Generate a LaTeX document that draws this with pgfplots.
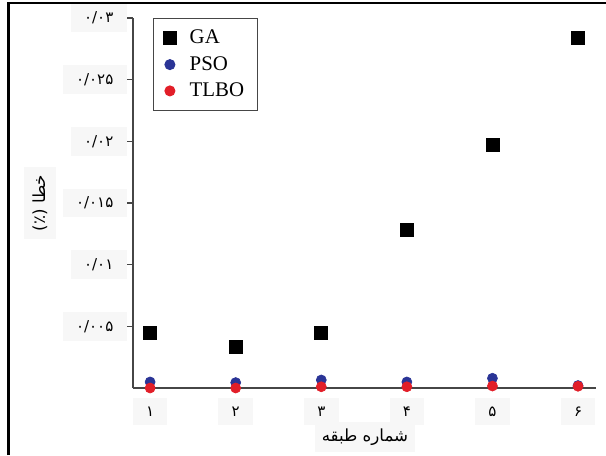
\documentclass[border=0pt]{standalone}
\usepackage{pgfplots}
\pgfplotsset{compat=1.18}
\usepackage{fontspec}
\setmainfont{Liberation Serif}
\newfontfamily\arabicfont[Script=Arabic]{DejaVu Sans}
\TeXXeTstate=1
\definecolor{psoblue}{RGB}{42,52,150}
\definecolor{tlbored}{RGB}{226,30,40}
\definecolor{axgray}{RGB}{70,70,70}
\begin{document}
\begin{tikzpicture}
\useasboundingbox (0pt,0pt) rectangle (363.6pt,273pt);
\draw[line width=1.3pt] (5.1pt,0pt) -- (5.1pt,271.2pt) -- (363.6pt,271.2pt);
\begin{axis}[
  at={(79.8pt,40.2pt)}, anchor=south west,
  scale only axis, width=277.8pt, height=222pt,
  xmin=0.8, xmax=6.21, ymin=0, ymax=0.03,
  clip=false,
  axis lines=left,
  axis line style={-, draw=axgray, line width=0.8pt},
  xtick={1,2,3,4,5,6},
  xticklabels={۱,۲,۳,۴,۵,۶},
  ytick={0.005,0.01,0.015,0.02,0.025,0.03},
  yticklabels={۰/۰۰۵,۰/۰۱,۰/۰۱۵,۰/۰۲,۰/۰۲۵,۰/۰۳},
  scaled y ticks=false,
  tick align=outside,
  major tick length=3.6pt,
  x tick style={draw=none},
  y tick style={draw=axgray, line width=0.8pt},
  ticklabel style={font=\arabicfont\small, fill=black!3, inner xsep=8pt, inner ysep=5pt},
  xticklabel style={anchor=center, yshift=-10.5pt},
  xlabel={\arabicfont\beginR شماره طبقه\endR},
  xlabel style={at={(axis description cs:0.501,0)}, anchor=center, yshift=-29.4pt, fill=black!3, inner sep=4pt},
  ylabel={\arabicfont\beginR خطا (٪)\endR},
  ylabel style={at={(axis description cs:-0.2009,0.5)}, anchor=center, fill=black!3, inner sep=5pt},
  legend style={at={(0.043,1)}, anchor=north west, draw=axgray, line width=0.6pt,
    font=\fontsize{12.5}{14}\selectfont, row sep=2pt, inner xsep=6pt, inner ysep=5pt},
  legend cell align=left,
]
\addplot[only marks, mark=square*, mark size=3.9pt, black] coordinates {
  (1,0.0045) (2,0.00333) (3,0.0045) (4,0.0128) (5,0.0197) (6,0.02842)
};
\addlegendentry{\hspace{6pt}GA\hspace{14pt}}
\addplot[only marks, mark=*, mark size=3pt, psoblue, mark options={draw=psoblue, fill=psoblue}] coordinates {
  (1,0.00049) (2,0.00044) (3,0.00065) (4,0.00049) (5,0.00079) (6,0.0002)
};
\addlegendentry{\hspace{6pt}PSO}
\addplot[only marks, mark=*, mark size=3pt, tlbored, mark options={draw=tlbored, fill=tlbored}] coordinates {
  (1,0.0) (2,0.0) (3,0.0001) (4,0.0001) (5,0.00016) (6,0.00014)
};
\addlegendentry{\hspace{6pt}TLBO}
\end{axis}
\end{tikzpicture}
\end{document}
